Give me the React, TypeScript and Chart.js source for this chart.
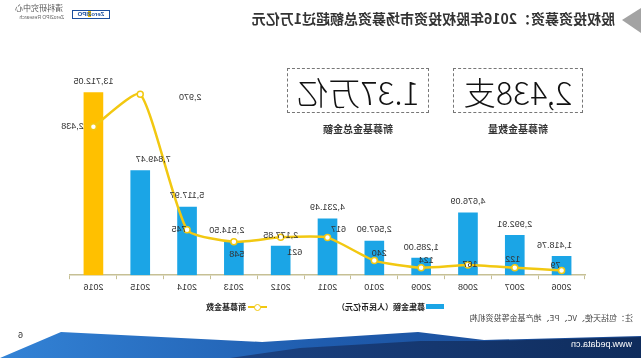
import React, { useEffect, useRef } from 'react';
import { Chart, registerables } from 'chart.js';

Chart.register(...registerables);

// ---- data ----
const years = ['2006', '2007', '2008', '2009', '2010', '2011', '2012', '2013', '2014', '2015', '2016'];
const amounts = [1418.76, 2992.91, 4676.09, 1285.0, 2567.9, 4231.49, 2177.85, 2514.5, 5117.97, 7849.47, 13712.05];
const counts = [79, 122, 167, 124, 240, 617, 621, 548, 745, 2970, 2438];
const amountSeriesName = '募集金额（人民币亿元）';
const countSeriesName = '新募基金数';
const titleText = '股权投资募资：2016年股权投资市场募资总额超过1万亿元';
const kpiCount = '2,438支';
const kpiCountCaption = '新募基金数量';
const kpiAmount = '1.37万亿';
const kpiAmountCaption = '新募基金总金额';
const noteText = '注：包括天使、VC、PE、地产基金等投资机构';

// ---- label placement (style) ----
const amountLabelShift: Record<string, number> = { '2015': -13, '2013': 7, '2006': 7 };
const countLabelShift: Record<string, [number, number]> = {
  '2016': [21, 0],
  '2015': [-50, 3],
  '2014': [8, 0],
  '2013': [-3, 13],
  '2012': [-14, 15],
  '2011': [-11, -8],
  '2010': [-5, -7],
  '2009': [-5, -7],
  '2008': [-2, -1],
  '2007': [2, -8],
  '2006': [6, -5],
};

const BLUE = '#1BA5E6';
const GOLD = '#FFC000';
const LINE = '#F2C811';
const AXIS = '#c6c095';
const NUM_FONT = "'Liberation Sans', Arial, sans-serif";
const CJK = "'Noto Sans CJK SC', 'Noto Sans', sans-serif";

const fmt2 = (v: number) => v.toLocaleString('en-US', { minimumFractionDigits: 2, maximumFractionDigits: 2 });
const fmt0 = (v: number) => v.toLocaleString('en-US');

const valueLabels = {
  id: 'valueLabels',
  afterDatasetsDraw(chart: any) {
    const ctx = chart.ctx;
    ctx.save();
    ctx.font = `9px ${NUM_FONT}`;
    ctx.fillStyle = '#333';
    ctx.textAlign = 'center';
    ctx.textBaseline = 'middle';
    const bars = chart.getDatasetMeta(0).data;
    bars.forEach((el: any, i: number) => {
      const dx = amountLabelShift[years[i]] || 0;
      ctx.fillText(fmt2(amounts[i]), el.x + dx, el.y - 11);
    });
    const pts = chart.getDatasetMeta(1).data;
    pts.forEach((el: any, i: number) => {
      const [dx, dy] = countLabelShift[years[i]] || [0, -8];
      ctx.fillText(fmt0(counts[i]), el.x + dx, el.y + dy);
    });
    ctx.restore();
  },
};

function ChartCanvas() {
  const ref = useRef<HTMLCanvasElement | null>(null);
  useEffect(() => {
    if (!ref.current) return;
    const chart = new Chart(ref.current, {
      type: 'bar',
      data: {
        labels: years,
        datasets: [
          {
            type: 'bar',
            label: amountSeriesName,
            data: amounts,
            backgroundColor: years.map((y) => (y === '2016' ? GOLD : BLUE)),
            barThickness: 19,
            yAxisID: 'y',
            order: 2,
          } as any,
          {
            type: 'line',
            label: countSeriesName,
            data: counts,
            borderColor: LINE,
            borderWidth: 2.5,
            tension: 0.18,
            pointRadius: 3,
            pointBackgroundColor: '#ffffff',
            pointBorderColor: LINE,
            pointBorderWidth: 1.5,
            yAxisID: 'y1',
            order: 1,
          } as any,
        ],
      },
      options: {
        responsive: false,
        animation: false,
        layout: { padding: { left: 56, right: 70, top: 62, bottom: 4 } },
        plugins: { legend: { display: false }, tooltip: { enabled: false } },
        scales: {
          x: {
            offset: true,
            grid: { display: true, drawOnChartArea: false, drawTicks: true, tickLength: 4, color: AXIS, offset: true },
            border: { display: true, color: AXIS, width: 1.5 },
            ticks: { color: '#333', font: { size: 9, family: NUM_FONT }, padding: 3 },
          },
          y: { display: false, min: 0, max: 16000 },
          y1: { display: false, min: 0, max: 3500, position: 'right' },
        },
      },
      plugins: [valueLabels],
    });
    return () => chart.destroy();
  }, []);
  return <canvas ref={ref} width={641} height={300} style={{ position: 'absolute', left: 0, top: 0 }} />;
}

const abs = (s: React.CSSProperties): React.CSSProperties => ({ position: 'absolute', whiteSpace: 'nowrap', ...s });

export default function App() {
  return (
    <div style={{ position: 'fixed', left: 0, top: 0, width: 641, height: 358, overflow: 'hidden', background: '#fff' }}>
      {/* decorations in picture coordinates */}
      <svg width={641} height={358} style={{ position: 'absolute', left: 0, top: 0 }}>
        <defs>
          <linearGradient id="wv" x1="0" y1="0" x2="1" y2="0">
            <stop offset="0" stopColor="#3383d6" />
            <stop offset="0.5" stopColor="#1f5cae" />
            <stop offset="1" stopColor="#1a4890" />
          </linearGradient>
          <linearGradient id="wd" x1="0" y1="0" x2="1" y2="0">
            <stop offset="0" stopColor="#1b4282" />
            <stop offset="1" stopColor="#0f2c5c" />
          </linearGradient>
        </defs>
        <polygon points="0,358 61,332 262,342 418,332 484,340 641,336 641,358" fill="url(#wv)" />
        <polygon points="230,358 300,348 420,341 484,341 641,337 641,358" fill="url(#wd)" />
        <polygon points="641,8 641,33 622,20" fill="#a3a3a3" />
      </svg>
      {/* mirrored content */}
      <div style={{ position: 'absolute', left: 0, top: 0, width: 641, height: 358, transform: 'scaleX(-1)' }}>
        <ChartCanvas />
        <div style={abs({ left: 26, top: 8, fontFamily: CJK, fontWeight: 700, fontSize: 14, lineHeight: '20px', color: '#333' })}>{titleText}</div>
        {/* logo */}
        <div style={abs({ left: 531, top: 10, width: 36, height: 7, border: '1px solid #1b4f9e', background: '#fff', fontFamily: NUM_FONT, fontSize: 6, lineHeight: '7px', fontWeight: 700, color: '#1b4f9e', textAlign: 'center' })}>
          Zero<span style={{ background: '#f3c300', color: '#1b4f9e' }}>2</span>IPO
        </div>
        <div style={abs({ left: 578, top: 3, fontFamily: CJK, fontSize: 8, lineHeight: '10px', color: '#555' })}>清科研究中心</div>
        <div style={abs({ left: 577, top: 14, fontFamily: NUM_FONT, fontSize: 5, lineHeight: '6px', color: '#666' })}>Zero2IPO Research</div>
        {/* KPI boxes */}
        <div style={abs({ left: 58, top: 68, width: 128, height: 43, border: '1px dashed #777', display: 'flex', alignItems: 'center', justifyContent: 'center', fontFamily: CJK, fontWeight: 300, fontSize: 32, color: '#111' })}>{kpiCount}</div>
        <div style={abs({ left: 58, top: 122, width: 130, textAlign: 'center', fontFamily: CJK, fontWeight: 700, fontSize: 10, lineHeight: '14px', color: '#333' })}>{kpiCountCaption}</div>
        <div style={abs({ left: 212, top: 68, width: 140, height: 43, border: '1px dashed #777', display: 'flex', alignItems: 'center', justifyContent: 'center', fontFamily: CJK, fontWeight: 300, fontSize: 32, color: '#111' })}>{kpiAmount}</div>
        <div style={abs({ left: 212, top: 122, width: 142, textAlign: 'center', fontFamily: CJK, fontWeight: 700, fontSize: 10, lineHeight: '14px', color: '#333' })}>{kpiAmountCaption}</div>
        {/* legend */}
        <div style={abs({ left: 197, top: 304, width: 18, height: 5, background: BLUE })} />
        <div style={abs({ left: 216, top: 301, fontFamily: CJK, fontWeight: 700, fontSize: 8, lineHeight: '12px', color: '#222' })}>{amountSeriesName}</div>
        <div style={abs({ left: 374, top: 306, width: 19, height: 2, background: LINE })} />
        <div style={abs({ left: 380, top: 304, width: 5, height: 5, borderRadius: '50%', border: `1.5px solid ${LINE}`, background: '#fff' })} />
        <div style={abs({ left: 395, top: 301, fontFamily: CJK, fontWeight: 700, fontSize: 8, lineHeight: '12px', color: '#222' })}>{countSeriesName}</div>
        {/* note */}
        <div style={abs({ left: 8, top: 312, fontFamily: CJK, fontSize: 8, lineHeight: '12px', color: '#444' })}>{noteText}</div>
        <div style={abs({ left: 618, top: 329, fontFamily: NUM_FONT, fontSize: 9, lineHeight: '12px', color: '#333' })}>6</div>
        <div style={abs({ left: 9, top: 338, fontFamily: NUM_FONT, fontSize: 9, lineHeight: '12px', color: '#fff' })}>www.pedata.cn</div>
      </div>
    </div>
  );
}
